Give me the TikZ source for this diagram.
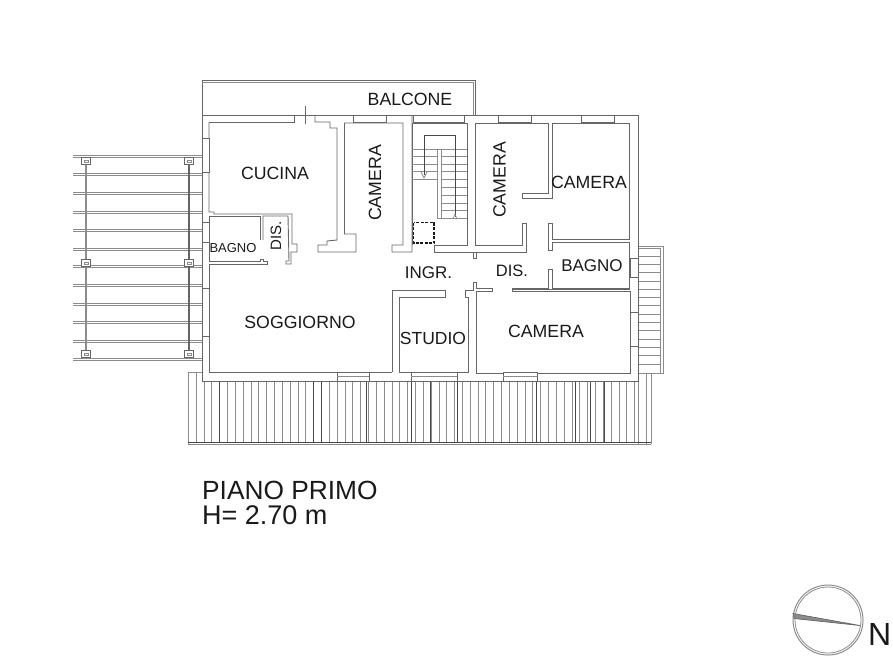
\documentclass[tikz,border=0pt]{standalone}
\usepackage{fontspec}
\setmainfont{Liberation Sans}
\definecolor{wallc}{gray}{0.4}
\definecolor{lightc}{gray}{0.55}
\definecolor{inkc}{gray}{0.1}
\tikzset{
  wall/.style={draw=wallc,line width=0.9pt,line join=miter},
  thin line/.style={draw=lightc,line width=0.7pt},
  dark line/.style={draw=wallc!70!black,line width=0.9pt},
  bar/.style={draw=lightc,line width=0.8pt},
  bracket/.style={draw=wallc,line width=0.8pt,fill=white},
  lab/.style={inner sep=0pt,text=inkc,font=\fontsize{17.7}{20}\selectfont},
  winbox/.style={draw=wallc,line width=0.8pt,fill=white},
}
\begin{document}
\begin{tikzpicture}[x=1pt,y=-1pt]
\useasboundingbox (0,0) rectangle (893,670);
% pergola on the left
\foreach \y in {156,174.5,193,212,230.5,249,266,285,304,322,341,359.5}{
  \draw[bar] (73,\y-1) -- (202,\y-1);
  \draw[bar] (73,\y+1) -- (202,\y+1);
}
\draw[draw=lightc,line width=2pt] (86,160) -- (86,354);
\draw[draw=wallc,line width=1.6pt] (189,160) -- (189,354);
\foreach \x in {86,189}{
  \foreach \y in {161,263,354}{
    \draw[bracket] (\x-4.5,\y-3.5) rectangle (\x+4.5,\y+3.5);
    \draw[thin line] (\x-2,\y-1) rectangle (\x+2,\y+1);
  }
}
% terrace at the bottom
\foreach \i in {0,...,58}{
  \pgfmathsetmacro{\xx}{188.3+7.83*\i}
  \ifdim\xx pt<202pt
    \draw[thin line] (\xx,372) -- (\xx,442);
  \else
    \ifdim\xx pt<638pt
      \draw[thin line] (\xx,381) -- (\xx,442);
    \fi
  \fi
}
\foreach \x in {219.5,313,321,366.5,411,430,457,536,575,590,604}{
  \draw[dark line] (\x,381) -- (\x,442);
}
\foreach \x in {638,646,651}{\draw[thin line] (\x,373) -- (\x,444);}
\draw[thin line] (188,372) -- (202,372);
\draw[thin line] (638,373) -- (651,373);
\draw[thin line] (188,372) -- (188,444);
\draw[dark line] (188,442) -- (651,442);
\draw[thin line] (188,444.5) -- (651,444.5);
% small balcony on the right
\foreach \y in {248,256,264,272,281,289,297,305,314,322,330,339,347,355,364,373}{
  \draw[thin line] (638,\y) -- (660,\y);
}
\draw[thin line] (660,248) -- (660,373);
\draw[thin line] (663,248) -- (663,373) -- (638,373);
\draw[thin line] (638,246.5) -- (663,246.5) -- (663,248);
% balcony at the top
\draw[wall] (202,115) -- (202,80) -- (475,80) -- (475,115);
\draw[thin line] (202,82) -- (473.5,82) -- (473.5,115);
% building outline
\draw[wall] (202,115) rectangle (638,381);
% door tick on the balcony side
\draw[wall] (305,106) -- (305,124);
\draw[wall] (209,122) -- (294,122) -- (294,115);
\draw[wall] (315,115) -- (315,122) -- (330,122) -- (330,128) -- (337,128) -- (337,240) -- (327,241) -- (327,245) -- (318,245) -- (318,252) -- (356,252) -- (356,234) -- (344.5,234) -- (344.5,123) -- (403,123) -- (403,245) -- (392,245) -- (392,252) -- (412,252) -- (412,115);
% left walls
\draw[wall] (209,122) -- (209,212) -- (214,212) -- (214,214) -- (292,214) -- (292,244) -- (297,244) -- (297,252) -- (291,252) -- (291,264) -- (286,264) -- (286,261) -- (289,261) -- (288,216) -- (263,216) -- (263,240);
\draw[wall] (260,240) -- (260,216) -- (209,216) -- (209,261) -- (260,261) -- (260,259) -- (263,259) -- (263,261) -- (267,261) -- (267,264) -- (209,264) -- (209,372) -- (392,372);
% stair hall and rooms on the right
\draw[wall] (412,245) -- (412,123) -- (467,123) -- (467,245) -- (434,245) -- (434,252) -- (526,252) -- (526,223) -- (522,223) -- (522,245) -- (475,245) -- (475,123) -- (548,123) -- (548,193) -- (522,193) -- (522,198) -- (552,198) -- (552,123) -- (629,123) -- (629,239) -- (552,239) -- (552,223) -- (548,223) -- (548,250) -- (552,250) -- (552,242) -- (629,242) -- (629,288) -- (552,288) -- (552,269) -- (548,269) -- (548,288) -- (512,288) -- (512,291) -- (630,291) -- (630,373) -- (476,373) -- (476,291) -- (492,291) -- (492,288) -- (476,288) -- (476,282) -- (473,282) -- (473,290) -- (465,290) -- (465,297) -- (468,297) -- (468,372) -- (399,372) -- (399,297) -- (445,297) -- (445,290) -- (392,290) -- (392,372);
\draw[wall] (473,252) -- (473,258) -- (476,258) -- (476,252);
\draw[draw=wallc,line width=1.2pt] (512,289.5) -- (630,289.5);
% stairs
\draw[thin line] (437,149) rectangle (441,218);
\foreach \y in {149,156,164,171,179}{\draw[thin line] (412,\y) -- (437,\y);}
\foreach \y in {149,156,164,171,179,187,195,203,210,218}{\draw[thin line] (441,\y) -- (467,\y);}
\draw[dark line] (424,175) -- (424,135) -- (455,135) -- (455,217);
\draw[thin line] (421,172) -- (424,178) -- (427,172);
\draw[thin line] (453,219) -- (455,214) -- (457,219);
\draw[draw=inkc,line width=1.1pt,dash pattern=on 3pt off 1.5pt] (413.5,222.5) rectangle (434,243);
% windows
\foreach \a/\b in {353/386,413/464,498/531,581/614}{
  \draw[winbox] (\a,115) rectangle (\b,122.5);
}
\foreach \a/\b in {337/369,411/457,503/537}{
  \draw[winbox] (\a,372.5) rectangle (\b,381);
  \draw[thin line] (\a,376) -- (\b,376);
}
\foreach \a/\b in {138/172,222/242,288/336}{
  \draw[winbox] (202,\a) rectangle (209,\b);
}
\foreach \a/\b in {258/277,312/346}{
  \draw[winbox] (630,\a) rectangle (638,\b);
}
% labels
\node[lab] (balcone) at (410,99) {BALCONE};
\node[lab] (cucina) at (275,173.5) {CUCINA};
\node[lab,rotate=90] (cam1) at (375,183) {CAMERA};
\node[lab,rotate=90] (cam2) at (499.5,180) {CAMERA};
\node[lab] (cam3) at (589,182.5) {CAMERA};
\node[lab] (cam4) at (546,331) {CAMERA};
\node[lab,font=\fontsize{13}{15}\selectfont] (bagno1) at (233,248.5) {BAGNO};
\node[lab,font=\fontsize{15}{17}\selectfont,rotate=90] (dis1) at (276,236) {DIS.};
\node[lab,font=\fontsize{17}{19}\selectfont] (bagno2) at (592,266) {BAGNO};
\node[lab,font=\fontsize{17}{19}\selectfont] (ingr) at (428.5,272.5) {INGR.};
\node[lab,font=\fontsize{16.5}{19}\selectfont] (dis2) at (512,271) {DIS.};
\node[lab,font=\fontsize{17.5}{20}\selectfont] (studio) at (433,338) {STUDIO};
\node[lab] (soggiorno) at (300,322.5) {SOGGIORNO};
\node[lab,font=\fontsize{26.3}{28}\selectfont,anchor=west] (piano) at (202,490) {PIANO PRIMO};
\node[lab,font=\fontsize{27}{28}\selectfont,anchor=west] (altezza) at (202,515) {H= 2.70 m};
% north mark
\draw[draw=lightc,line width=1pt] (828,620) circle (35);
\draw[draw=lightc,line width=0.8pt] (828,620) circle (33);
\draw[draw=wallc,fill=lightc,line width=0.7pt] (793,613.5) -- (860,625.5) -- (794,618.5) -- cycle;
\node[lab,font=\fontsize{32}{34}\selectfont,anchor=west] (nord) at (868,634) {N};
\end{tikzpicture}
\end{document}
